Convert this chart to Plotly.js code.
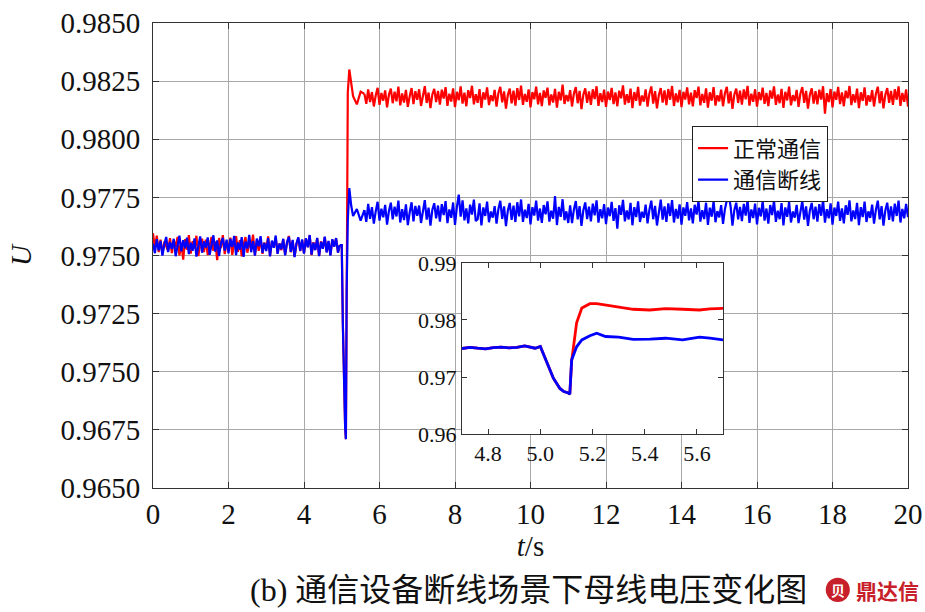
<!DOCTYPE html>
<html>
<head>
<meta charset="utf-8">
<script src="https://cdn.plot.ly/plotly-3.0.1.min.js"></script>
<style>html,body{margin:0;padding:0;background:#fff;}#chart{width:925px;height:612px;}</style>
</head>
<body>
<div id="chart"></div>
<script>
// ---- main chart data: pre event, t = 0 ... 4.95 s (step 0.05) ----
const preStart = 0, step = 0.05;
const bluePre = [
0.97552,0.97510,0.97570,0.97522,0.97563,0.97500,0.97548,0.97580,0.97515,0.97558,
0.97528,0.97572,0.97497,0.97550,0.97585,0.97518,0.97566,0.97531,0.97577,0.97506,
0.97555,0.97520,0.97574,0.97495,0.97546,0.97582,0.97512,0.97561,0.97534,0.97578,
0.97503,0.97549,0.97587,0.97517,0.97565,0.97498,0.97553,0.97576,0.97521,0.97568,
0.97509,0.97571,0.97537,0.97584,0.97502,0.97556,0.97525,0.97579,0.97494,0.97560,
0.97530,0.97589,0.97514,0.97562,0.97499,0.97573,0.97540,0.97583,0.97511,0.97554,
0.97519,0.97575,0.97496,0.97564,0.97533,0.97586,0.97507,0.97551,0.97527,0.97572,
0.97501,0.97557,0.97580,0.97516,0.97567,0.97493,0.97552,0.97578,0.97520,0.97569,
0.97508,0.97574,0.97535,0.97588,0.97504,0.97555,0.97523,0.97576,0.97497,0.97559,
0.97529,0.97581,0.97513,0.97563,0.97500,0.97570,0.97538,0.97575,0.97512,0.97545];
const redPre = [
0.97596,0.97530,0.97585,0.97515,0.97568,0.97505,0.97560,0.97540,0.97520,0.97575,
0.97510,0.97565,0.97535,0.97580,0.97500,0.97555,0.97482,0.97570,0.97525,0.97588,
0.97508,0.97562,0.97530,0.97585,0.97498,0.97550,0.97572,0.97515,0.97568,0.97502,
0.97548,0.97580,0.97520,0.97560,0.97480,0.97575,0.97532,0.97588,0.97506,0.97558,
0.97524,0.97577,0.97503,0.97553,0.97583,0.97516,0.97566,0.97496,0.97545,0.97579,
0.97512,0.97558,0.97532,0.97590,0.97501,0.97564,0.97520,0.97573,0.97507,0.97556,
0.97527,0.97582,0.97499,0.97560,0.97538,0.97578,0.97509,0.97552,0.97523,0.97570,
0.97504,0.97555,0.97584,0.97514,0.97563,0.97495,0.97549,0.97576,0.97519,0.97566,
0.97510,0.97572,0.97536,0.97586,0.97502,0.97557,0.97525,0.97574,0.97498,0.97561,
0.97531,0.97579,0.97515,0.97560,0.97503,0.97568,0.97540,0.97573,0.97514,0.97545];
// ---- transient (explicit times) ----
const transT    = [4.95,5.0,5.03,5.06,5.09,5.11,5.13,5.16,5.2,5.25,5.3,5.4,5.5,5.6];
const blueTrans = [0.97545,0.97545,0.97200,0.96920,0.96760,0.96710,0.97350,0.97650,0.97790,0.97715,0.97670,0.97700,0.97650,0.97695];
const redTrans  = [0.97545,0.97545,0.97200,0.96920,0.96760,0.96710,0.97700,0.98200,0.98300,0.98240,0.98185,0.98150,0.98205,0.98195];
// ---- post event, t = 5.6 ... 20.0 s (step 0.05) ----
const postStart = 5.6;
const redPost = [
0.98195,0.98152,0.98214,0.98160,0.98203,0.98141,0.98188,0.98221,0.98148,0.98199,
0.98166,0.98210,0.98137,0.98192,0.98218,0.98155,0.98205,0.98163,0.98226,0.98146,
0.98197,0.98158,0.98212,0.98139,0.98185,0.98220,0.98151,0.98207,0.98170,0.98215,
0.98143,0.98190,0.98228,0.98156,0.98201,0.98134,0.98193,0.98217,0.98160,0.98208,
0.98149,0.98213,0.98175,0.98224,0.98144,0.98196,0.98162,0.98219,0.98138,0.98204,
0.98168,0.98227,0.98153,0.98200,0.98142,0.98211,0.98177,0.98230,0.98150,0.98194,
0.98157,0.98216,0.98135,0.98202,0.98171,0.98223,0.98147,0.98189,0.98164,0.98212,
0.98140,0.98198,0.98225,0.98159,0.98206,0.98132,0.98191,0.98218,0.98154,0.98209,
0.98145,0.98220,0.98169,0.98231,0.98148,0.98195,0.98161,0.98214,0.98137,0.98203,
0.98172,0.98226,0.98150,0.98199,0.98143,0.98210,0.98178,0.98222,0.98146,0.98193,
0.98158,0.98217,0.98136,0.98204,0.98167,0.98235,0.98152,0.98190,0.98163,0.98211,
0.98141,0.98197,0.98224,0.98155,0.98208,0.98130,0.98192,0.98219,0.98157,0.98206,
0.98148,0.98215,0.98173,0.98228,0.98144,0.98198,0.98160,0.98213,0.98139,0.98205,
0.98169,0.98221,0.98151,0.98201,0.98142,0.98209,0.98176,0.98232,0.98149,0.98194,
0.98156,0.98218,0.98134,0.98203,0.98165,0.98225,0.98145,0.98188,0.98162,0.98214,
0.98140,0.98196,0.98227,0.98153,0.98207,0.98133,0.98190,0.98220,0.98158,0.98210,
0.98147,0.98216,0.98170,0.98229,0.98143,0.98197,0.98159,0.98212,0.98138,0.98204,
0.98171,0.98223,0.98150,0.98200,0.98141,0.98211,0.98177,0.98226,0.98146,0.98195,
0.98157,0.98219,0.98136,0.98202,0.98166,0.98224,0.98145,0.98189,0.98163,0.98213,
0.98142,0.98198,0.98225,0.98154,0.98206,0.98131,0.98193,0.98218,0.98156,0.98209,
0.98149,0.98214,0.98172,0.98230,0.98145,0.98196,0.98161,0.98215,0.98140,0.98203,
0.98168,0.98222,0.98152,0.98199,0.98143,0.98210,0.98175,0.98227,0.98148,0.98192,
0.98155,0.98217,0.98135,0.98204,0.98167,0.98226,0.98146,0.98190,0.98164,0.98212,
0.98139,0.98197,0.98224,0.98157,0.98208,0.98132,0.98191,0.98219,0.98153,0.98207,
0.98150,0.98213,0.98171,0.98228,0.98110,0.98198,0.98160,0.98216,0.98137,0.98205,
0.98170,0.98225,0.98151,0.98201,0.98142,0.98209,0.98176,0.98229,0.98147,0.98194,
0.98158,0.98218,0.98134,0.98202,0.98165,0.98223,0.98145,0.98189,0.98162,0.98211,
0.98141,0.98196,0.98226,0.98155,0.98207,0.98133,0.98192,0.98220,0.98157,0.98208,
0.98148,0.98215,0.98170,0.98227,0.98144,0.98199,0.98161,0.98214,0.98140];
const bluePost = [
0.97695,0.97645,0.97722,0.97658,0.97708,0.97637,0.97690,0.97731,0.97650,0.97701,
0.97664,0.97718,0.97633,0.97692,0.97727,0.97655,0.97710,0.97668,0.97736,0.97642,
0.97699,0.97652,0.97720,0.97631,0.97686,0.97729,0.97647,0.97713,0.97671,0.97715,
0.97640,0.97693,0.97738,0.97654,0.97706,0.97628,0.97697,0.97725,0.97660,0.97715,
0.97646,0.97721,0.97674,0.97734,0.97639,0.97698,0.97662,0.97728,0.97632,0.97709,
0.97762,0.97667,0.97737,0.97651,0.97703,0.97638,0.97719,0.97676,0.97740,0.97648,
0.97656,0.97724,0.97629,0.97707,0.97670,0.97732,0.97643,0.97689,0.97663,0.97712,
0.97637,0.97700,0.97735,0.97657,0.97711,0.97626,0.97694,0.97726,0.97653,0.97714,
0.97644,0.97729,0.97668,0.97741,0.97645,0.97697,0.97661,0.97722,0.97634,0.97708,
0.97672,0.97736,0.97650,0.97702,0.97640,0.97717,0.97677,0.97733,0.97646,0.97693,
0.97658,0.97755,0.97631,0.97709,0.97666,0.97742,0.97652,0.97690,0.97640,0.97716,
0.97639,0.97698,0.97734,0.97655,0.97712,0.97627,0.97695,0.97728,0.97657,0.97710,
0.97647,0.97723,0.97673,0.97737,0.97641,0.97699,0.97660,0.97721,0.97635,0.97706,
0.97669,0.97731,0.97649,0.97704,0.97615,0.97716,0.97675,0.97739,0.97647,0.97694,
0.97655,0.97726,0.97630,0.97708,0.97665,0.97733,0.97644,0.97688,0.97662,0.97719,
0.97638,0.97697,0.97736,0.97656,0.97713,0.97629,0.97692,0.97740,0.97654,0.97711,
0.97645,0.97724,0.97670,0.97738,0.97642,0.97700,0.97659,0.97720,0.97633,0.97707,
0.97671,0.97730,0.97651,0.97703,0.97638,0.97718,0.97676,0.97735,0.97646,0.97695,
0.97657,0.97727,0.97632,0.97706,0.97667,0.97734,0.97643,0.97691,0.97664,0.97717,
0.97636,0.97699,0.97737,0.97760,0.97712,0.97628,0.97696,0.97727,0.97655,0.97709,
0.97648,0.97722,0.97672,0.97739,0.97640,0.97698,0.97661,0.97723,0.97634,0.97705,
0.97668,0.97733,0.97650,0.97702,0.97637,0.97717,0.97674,0.97736,0.97645,0.97693,
0.97656,0.97725,0.97629,0.97707,0.97666,0.97731,0.97642,0.97689,0.97663,0.97718,
0.97639,0.97698,0.97735,0.97654,0.97711,0.97627,0.97694,0.97726,0.97656,0.97710,
0.97646,0.97721,0.97671,0.97738,0.97641,0.97699,0.97660,0.97724,0.97633,0.97706,
0.97670,0.97732,0.97649,0.97703,0.97638,0.97716,0.97675,0.97737,0.97647,0.97694,
0.97657,0.97726,0.97631,0.97708,0.97665,0.97732,0.97644,0.97690,0.97662,0.97719,
0.97637,0.97697,0.97736,0.97655,0.97712,0.97628,0.97695,0.97727,0.97653,0.97711,
0.97647,0.97723,0.97670,0.97736,0.97642,0.97700,0.97660,0.97722,0.97665];

// ---- inset data ----
const insetT    = [4.70,4.73,4.76,4.79,4.82,4.85,4.88,4.91,4.94,4.96,4.98,5.00,5.01,5.025,5.05,5.075,5.09,5.105,5.113,5.12,5.139,5.159,5.19,5.216,5.25,5.30,5.356,5.42,5.48,5.545,5.61,5.65,5.70];
const insetBlue = [0.97500,0.97520,0.97505,0.97495,0.97515,0.97525,0.97510,0.97520,0.97545,0.97530,0.97505,0.97535,0.97420,0.97250,0.96980,0.96800,0.96745,0.96725,0.96700,0.97300,0.97530,0.97650,0.97725,0.97767,0.97710,0.97700,0.97660,0.97665,0.97680,0.97650,0.97700,0.97680,0.97650];
const insetRed  = [0.97500,0.97520,0.97505,0.97495,0.97515,0.97525,0.97510,0.97520,0.97545,0.97530,0.97505,0.97535,0.97420,0.97250,0.96980,0.96800,0.96745,0.96725,0.96700,0.97280,0.97950,0.98210,0.98285,0.98285,0.98260,0.98220,0.98188,0.98175,0.98200,0.98188,0.98175,0.98195,0.98205];

// ---- axis ticks / labels ----
const yTickVals = [0.9650,0.9675,0.9700,0.9725,0.9750,0.9775,0.9800,0.9825,0.9850];
const yTickText = ['0.9650','0.9675','0.9750','0.9725','0.9750','0.9775','0.9800','0.9825','0.9850'];
const xTickVals = [0,2,4,6,8,10,12,14,16,18,20];
const insetXTicks = [4.8,5.0,5.2,5.4,5.6];
const insetYTicks = [0.96,0.97,0.98,0.99];
const seriesNames = ['正常通信','通信断线'];
const RED = '#ff0000', BLUE = '#0000ff';

const serif = "'Liberation Serif', 'Times New Roman', 'Noto Sans CJK SC', serif";
const cjk = "'Noto Sans CJK SC', 'Liberation Serif', serif";
const lw = 2.2;
const traces = [
  {x0: preStart, dx: step, y: redPre, mode:'lines', line:{color:RED,width:lw}, name:seriesNames[0], legendgroup:'r', showlegend:true},
  {x: transT, y: redTrans, mode:'lines', line:{color:RED,width:lw}, legendgroup:'r', showlegend:false},
  {x0: postStart, dx: step, y: redPost, mode:'lines', line:{color:RED,width:lw}, legendgroup:'r', showlegend:false},
  {x0: preStart, dx: step, y: bluePre, mode:'lines', line:{color:BLUE,width:lw}, name:seriesNames[1], legendgroup:'b', showlegend:true},
  {x: transT, y: blueTrans, mode:'lines', line:{color:BLUE,width:lw}, legendgroup:'b', showlegend:false},
  {x0: postStart, dx: step, y: bluePost, mode:'lines', line:{color:BLUE,width:lw}, legendgroup:'b', showlegend:false},
  {x: insetT, y: insetRed, xaxis:'x2', yaxis:'y2', mode:'lines', line:{color:RED,width:2.8}, showlegend:false},
  {x: insetT, y: insetBlue, xaxis:'x2', yaxis:'y2', mode:'lines', line:{color:BLUE,width:2.8}, showlegend:false}
];

const layout = {
  width: 925, height: 612,
  margin: {l:153, r:17, t:23, b:124},
  paper_bgcolor:'#ffffff', plot_bgcolor:'#ffffff',
  font: {family: serif, color:'#111', size: 28},
  showlegend: true,
  legend: {x:0.714, y:0.778, xanchor:'left', yanchor:'top', bgcolor:'#fff', bordercolor:'#222', borderwidth:1,
           font:{family:cjk, size:22, color:'#111'}, tracegroupgap:0},
  xaxis: {range:[0,20], tickvals:xTickVals, ticks:'inside', ticklen:6, tickcolor:'#333',
          showline:true, linecolor:'#333', linewidth:1, mirror:'ticks',
          showgrid:true, gridcolor:'#a8a8a8', gridwidth:1, zeroline:false,
          tickfont:{size:29, family:serif}, ticklabelstandoff:0,
          title:{text:'<i>t</i>/s', font:{size:29, family:serif}, standoff:6}},
  yaxis: {range:[0.965,0.985], tickvals:yTickVals, ticktext:yTickText, ticks:'inside', ticklen:6, tickcolor:'#333',
          showline:true, linecolor:'#333', linewidth:1, mirror:'ticks',
          showgrid:true, gridcolor:'#a8a8a8', gridwidth:1, zeroline:false,
          tickfont:{size:29, family:serif}, ticklabelstandoff:6,
          title:{text:'<i>U</i>', font:{size:29, family:serif}, standoff:20}},
  xaxis2: {domain:[0.4093,0.755], anchor:'y2', range:[4.7,5.7], tickvals:insetXTicks, tickformat:'.1f',
           ticks:'inside', ticklen:5, tickcolor:'#333', showline:true, linecolor:'#333', mirror:'ticks',
           showgrid:false, zeroline:false, tickfont:{size:22, family:serif}},
  yaxis2: {domain:[0.116,0.484], anchor:'x2', range:[0.96,0.99], tickvals:insetYTicks, tickformat:'.2f',
           ticks:'inside', ticklen:5, tickcolor:'#333', showline:true, linecolor:'#333', mirror:'ticks',
           showgrid:false, zeroline:false, tickfont:{size:22, family:serif}},
  shapes: [
    {type:'circle', xref:'paper', yref:'paper', x0:0.891, x1:0.923, y0:-0.245, y1:-0.193,
     fillcolor:'#c8202a', line:{width:0}}
  ],
  annotations: [
    {xref:'paper', yref:'paper', x:0.497, y:-0.219, xanchor:'center', yanchor:'middle', showarrow:false,
     text:'(b) 通信设备断线场景下母线电压变化图', font:{size:32, family:serif, color:'#111'}},
    {xref:'paper', yref:'paper', x:0.907, y:-0.219, xanchor:'center', yanchor:'middle', showarrow:false,
     text:'<b>贝</b>', font:{size:14, family:cjk, color:'#fff'}},
    {xref:'paper', yref:'paper', x:0.928, y:-0.219, xanchor:'left', yanchor:'middle', showarrow:false,
     text:'<b>鼎达信</b>', font:{size:21, family:cjk, color:'#c8202a'}}
  ]
};

Plotly.newPlot('chart', traces, layout, {displayModeBar:false, staticPlot:true});
</script>
</body>
</html>
